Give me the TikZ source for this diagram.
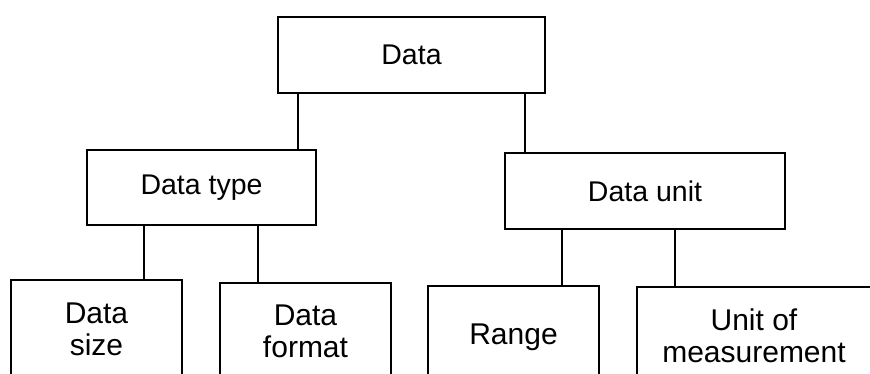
\documentclass[tikz,border=0pt]{standalone}
\usepackage{fontspec}
\setmainfont{Liberation Sans}
\begin{document}
\begin{tikzpicture}[x=1pt,y=-1pt,
  box/.style={draw=black, line width=1.5pt, rectangle, inner sep=0pt, align=center},
  topfont/.style={font=\fontsize{28.5}{32}\selectfont},
  lowfont/.style={font=\fontsize{30}{32}\selectfont},
  link/.style={draw=black, line width=1.5pt}]
\useasboundingbox (0,0) rectangle (870,374);
\clip (0,0) rectangle (870,374);
\node[box, topfont, minimum width=267pt, minimum height=76pt] (data) at (411.5,55) {Data};
\node[box, topfont, minimum width=229pt, minimum height=75pt] (dtype) at (201.5,187.5) {Data type};
\node[box, topfont, minimum width=280pt, minimum height=76pt] (dunit) at (645,191) {Data unit};
\node[box, lowfont, minimum width=171pt, minimum height=98pt] (dsize) at (96.5,329) {Data\\size};
\node[box, lowfont, minimum width=171pt, minimum height=96pt] (dformat) at (305.5,331) {Data\\format};
\node[box, lowfont, minimum width=171pt, minimum height=102pt] (range) at (513.5,337) {Range};
\node[box, lowfont, minimum width=234pt, minimum height=97pt] (unit) at (754,335.5) {Unit of\\measurement};
\draw[link] (data.south -| 298,0) -- (dtype.north -| 298,0);
\draw[link] (data.south -| 525,0) -- (dunit.north -| 525,0);
\draw[link] (dtype.south -| 144,0) -- (dsize.north -| 144,0);
\draw[link] (dtype.south -| 258,0) -- (dformat.north -| 258,0);
\draw[link] (dunit.south -| 562,0) -- (range.north -| 562,0);
\draw[link] (dunit.south -| 675,0) -- (unit.north -| 675,0);
\end{tikzpicture}
\end{document}
